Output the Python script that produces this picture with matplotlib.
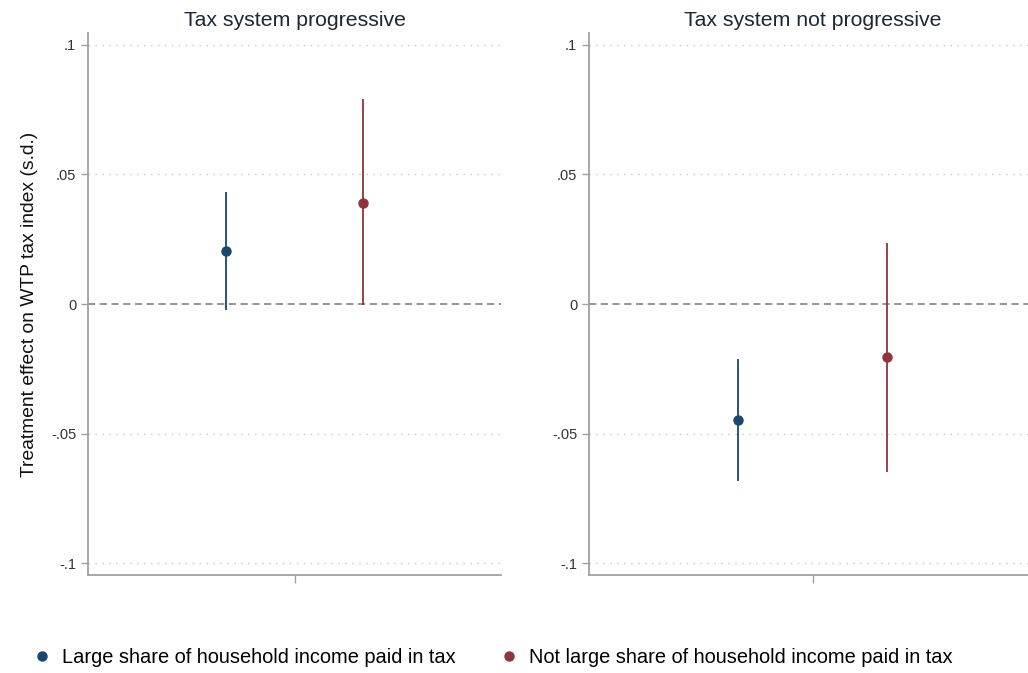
import matplotlib
matplotlib.use("Agg")
import matplotlib.pyplot as plt
from matplotlib.lines import Line2D

plt.rcParams['font.family'] = ['Liberation Sans', 'DejaVu Sans']

# Panels, groups and estimates with 95% confidence intervals
panels = ["Tax system progressive", "Tax system not progressive"]
groups = ["Large share of household income paid in tax",
          "Not large share of household income paid in tax"]
estimates = [[0.0205, 0.039], [-0.0448, -0.0205]]
ci_low = [[-0.0023, -0.0005], [-0.0685, -0.0647]]
ci_high = [[0.0431, 0.079], [-0.0211, 0.0237]]
group_pos = [-1, 1]
ytick_vals = [-0.1, -0.05, 0, 0.05, 0.1]
ytick_labels = ["-.1", "-.05", "0", ".05", ".1"]

colors = ["#1a476f", "#90353b"]
axis_gray = "#a0a0a0"
text_dark = "#1f2733"

fig = plt.figure(figsize=(10.28, 6.73), dpi=100)
axes = [fig.add_axes([88 / 1028, 98 / 673, 413 / 1028, 542 / 673]),
        fig.add_axes([589 / 1028, 98 / 673, 447 / 1028, 542 / 673])]

for p, ax in enumerate(axes):
    ax.set_xlim(-3, 3)
    ax.set_ylim(-0.1046, 0.1046)
    for v in ytick_vals:
        if v != 0:
            ax.axhline(v, color="#c8c8c8", lw=1.0, ls=(0, (1, 4)), zorder=0)
    ax.axhline(0, color="#8c8c8c", lw=1.3, ls=(0, (4, 2.5)), zorder=1)
    for g in range(len(groups)):
        ax.vlines(group_pos[g], ci_low[p][g], ci_high[p][g],
                  color=colors[g], lw=1.3, zorder=2)
        ax.plot(group_pos[g], estimates[p][g], "o", color=colors[g],
                ms=6.5, zorder=3)
    ax.set_yticks(ytick_vals)
    ax.set_yticklabels(ytick_labels)
    ax.set_xticks([0])
    ax.set_xticklabels([""])
    for s in ["top", "right"]:
        ax.spines[s].set_visible(False)
    for s in ["left", "bottom"]:
        ax.spines[s].set_color(axis_gray)
        ax.spines[s].set_linewidth(1.3)
    ax.tick_params(axis="both", colors=axis_gray, width=1.0, length=5,
                   labelcolor="#333333", labelsize=10.5)
    ax.tick_params(axis="x", length=6)
    ax.set_title(panels[p], fontsize=15.3, color=text_dark, pad=5)

axes[0].set_ylabel("Treatment effect on WTP tax index (s.d.)",
                   fontsize=13.9, color="#111111", labelpad=9)

handles = [Line2D([], [], marker="o", ls="none", color=colors[g], ms=6.5)
           for g in range(len(groups))]
fig.legend(handles, groups, loc="center", bbox_to_anchor=(0.479, 0.023),
           ncol=2, frameon=False, fontsize=14.4, handletextpad=0.5,
           columnspacing=2.2, handlelength=1.0)

fig.savefig("out.png", dpi=100)
